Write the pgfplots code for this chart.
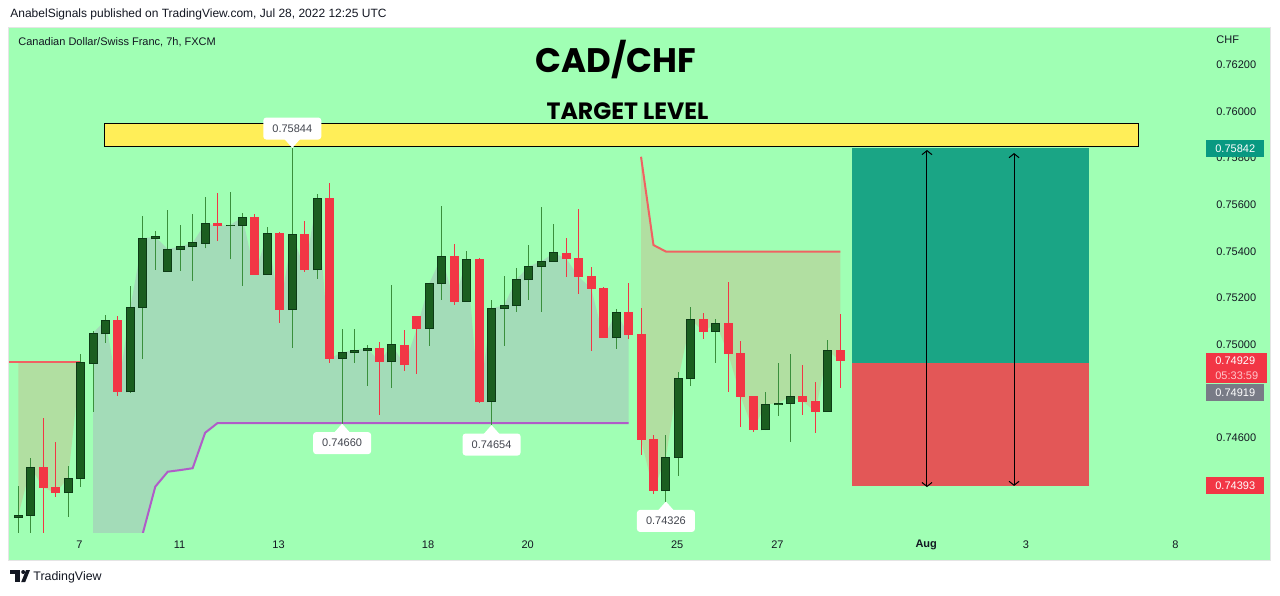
\documentclass[border=0pt]{standalone}
\usepackage{pgfplots}
\pgfplotsset{compat=1.18}
\usepackage{pgfplotstable}
\usepgfplotslibrary{fillbetween}
\usetikzlibrary{arrows.meta}
\usepackage{fontspec}
\setmainfont{Liberation Sans}
\newfontfamily\titlefont{Poppins}

\definecolor{bg}{HTML}{A0FFB4}
\definecolor{upbody}{HTML}{1B5E20}
\definecolor{upedge}{HTML}{0D3B16}
\definecolor{upwick}{HTML}{3A8F3C}
\definecolor{down}{HTML}{F23645}
\definecolor{grayfill}{HTML}{A3DCB8}
\definecolor{yelfill}{HTML}{B1DFA1}
\definecolor{resline}{HTML}{F06262}
\definecolor{supline}{HTML}{B05CC8}
\definecolor{target}{HTML}{FFEE58}
\definecolor{profit}{HTML}{1AA585}
\definecolor{loss}{HTML}{E35757}
\definecolor{tvtext}{HTML}{131722}
\definecolor{tvteal}{HTML}{089981}
\definecolor{lastgray}{HTML}{787B86}
\definecolor{timepink}{HTML}{FFC7CC}

\newcommand\tv{\fontsize{5.5}{6.6}\selectfont}
\def\hp{0.0000215}% half a pixel in price

% CADCHF 7h bars, x = bar index
\pgfplotstableread{
i o h l c
0 0.74257 0.74393 0.74180 0.74267
1 0.74265 0.74514 0.74180 0.74474
2 0.74474 0.74686 0.74180 0.74385
3 0.74388 0.74582 0.74347 0.74364
4 0.74364 0.74478 0.74261 0.74427
5 0.74424 0.74959 0.74390 0.74921
6 0.74918 0.75058 0.74712 0.75049
7 0.75046 0.75127 0.75008 0.75105
8 0.75105 0.75122 0.74779 0.74797
9 0.74797 0.75251 0.74793 0.75161
10 0.75160 0.75552 0.74938 0.75457
11 0.75454 0.75489 0.75320 0.75462
12 0.75314 0.75578 0.75314 0.75410
13 0.75407 0.75513 0.75317 0.75421
14 0.75419 0.75560 0.75274 0.75436
15 0.75435 0.75633 0.75413 0.75520
16 0.75522 0.75650 0.75446 0.75510
17 0.75510 0.75655 0.75366 0.75513
18 0.75510 0.75565 0.75253 0.75547
19 0.75547 0.75560 0.75300 0.75300
20 0.75300 0.75503 0.75299 0.75478
21 0.75479 0.75483 0.75094 0.75150
22 0.75150 0.75844 0.74986 0.75473
23 0.75475 0.75530 0.75313 0.75321
24 0.75321 0.75646 0.75283 0.75628
25 0.75628 0.75695 0.74922 0.74939
26 0.74939 0.75067 0.74660 0.74967
27 0.74965 0.75067 0.74922 0.74975
28 0.74973 0.74998 0.74823 0.74985
29 0.74985 0.75011 0.74699 0.74926
30 0.74926 0.75254 0.74815 0.74998
31 0.74998 0.75062 0.74888 0.74913
32 0.75122 0.75122 0.74875 0.75068
33 0.75068 0.75263 0.74995 0.75263
34 0.75261 0.75596 0.75192 0.75379
35 0.75380 0.75432 0.75171 0.75184
36 0.75184 0.75401 0.75183 0.75366
37 0.75366 0.75370 0.74750 0.74755
38 0.74755 0.75191 0.74654 0.75155
39 0.75154 0.75293 0.74995 0.75168
40 0.75167 0.75327 0.75141 0.75280
41 0.75278 0.75427 0.75192 0.75336
42 0.75334 0.75592 0.75141 0.75357
43 0.75356 0.75517 0.75355 0.75393
44 0.75393 0.75457 0.75290 0.75368
45 0.75370 0.75582 0.75218 0.75291
46 0.75293 0.75333 0.74974 0.75240
47 0.75243 0.75248 0.75028 0.75029
48 0.75029 0.75154 0.74982 0.75138
49 0.75138 0.75263 0.75025 0.75042
50 0.75045 0.75157 0.74527 0.74591
51 0.74594 0.74612 0.74360 0.74373
52 0.74373 0.74612 0.74326 0.74517
53 0.74516 0.74881 0.74437 0.74855
54 0.74853 0.75161 0.74823 0.75108
55 0.75108 0.75135 0.75025 0.75055
56 0.75055 0.75110 0.74922 0.75091
57 0.75092 0.75267 0.74797 0.74961
58 0.74964 0.75015 0.74645 0.74776
59 0.74779 0.74780 0.74626 0.74634
60 0.74634 0.74795 0.74633 0.74743
61 0.74743 0.74921 0.74694 0.74748
62 0.74748 0.74959 0.74583 0.74778
63 0.74779 0.74912 0.74699 0.74755
64 0.74757 0.74840 0.74621 0.74712
65 0.74712 0.75019 0.74711 0.74975
66 0.74976 0.75131 0.74815 0.74929
}\candles

% support line (purple)
\pgfplotstableread{
i v
6 0.74050
9 0.74050
10 0.74190
11 0.74390
12 0.74454
13 0.74461
14 0.74469
15 0.74621
16 0.74663
49 0.74663
}\support

% resistance lines (red)
\pgfplotstableread{
i v
-1 0.74926
5 0.74926
}\resistA
\pgfplotstableread{
i v
50 0.75806
51 0.75427
52 0.75399
66 0.75399
}\resistB

\pgfplotsset{
  bull/.style={restrict expr to domain={\thisrow{c}-\thisrow{o}}{0:1}},
  bear/.style={restrict expr to domain={\thisrow{c}-\thisrow{o}}{-1:-0.000001}},
  candle/.style 2 args={forget plot, draw=none, no markers,
    error bars/y dir=plus, error bars/y explicit, error bars/error mark=none,
    error bars/error bar style={line width=#1, draw=#2, line cap=butt}},
}
\tikzset{lbl/.style={fill=white, text=tvtext!80, font=\tv, rounded corners=1.5pt,
  minimum height=11pt, minimum width=29pt, inner sep=0pt}}

\begin{document}
\pagecolor{bg}%
\begin{tikzpicture}
\begin{axis}[
  at={(4pt,-266pt)}, anchor=south west,
  width=596pt, height=252.5pt, scale only axis,
  xmin=-0.827, xmax=94.88, ymin=0.741952, ymax=0.763631,
  axis line style={draw=none}, tick style={draw=none}, major tick length=0pt,
  every tick label/.append style={font=\tv, text=tvtext, inner sep=0pt},
  xtick={4.9,12.95,20.9,32.9,40.9,52.9,60.95,72.9,80.9,92.9},
  xticklabels={7,11,13,18,20,25,27,\textbf{Aug},3,8},
  xticklabel style={anchor=center, yshift=-6.5pt},
  ytick={0.744,0.746,0.748,0.75,0.752,0.754,0.756,0.758,0.76,0.762},
  ytick pos=right, scaled y ticks=false,
  yticklabel style={anchor=west, xshift=8pt,
    /pgf/number format/fixed, /pgf/number format/fixed zerofill,
    /pgf/number format/precision=5, /pgf/number format/assume math mode=true},
]
% paths for the cloud
\addplot[draw=none, name path=cl, forget plot] table[x=i, y=c]{\candles};
\addplot[draw=none, name path=sup, forget plot] table[x=i, y=v]{\support};
\addplot[draw=none, name path=ra, forget plot] table[x=i, y=v]{\resistA};
\addplot[draw=none, name path=rb, forget plot] table[x=i, y=v]{\resistB};
\addplot[yelfill, forget plot] fill between[of=ra and cl, soft clip={domain=0:5}];
\addplot[grayfill, forget plot] fill between[of=cl and sup, soft clip={domain=6:49}];
\addplot[yelfill, forget plot] fill between[of=rb and cl, soft clip={domain=50:66}];
\addplot[supline, line width=1pt, forget plot] table[x=i, y=v]{\support};
\addplot[resline, line width=1pt, forget plot] table[x=i, y=v]{\resistA};
\addplot[resline, line width=1pt, forget plot] table[x=i, y=v]{\resistB};

% target zone and position tool
\draw[fill=target, line width=0.5pt] (axis cs:6.96,0.75851) rectangle (axis cs:89.98,0.75947);
\fill[profit] (axis cs:66.94,0.74919) rectangle (axis cs:85.96,0.75842);
\fill[loss] (axis cs:66.94,0.74393) rectangle (axis cs:85.96,0.74919);
\draw[line width=0.5pt, {Straight Barb[length=2pt,width=5pt]}-{Straight Barb[length=2pt,width=5pt]}]
  (axis cs:72.96,0.75835) -- (axis cs:72.96,0.74388);
\draw[line width=0.5pt, {Straight Barb[length=2pt,width=5pt]}-{Straight Barb[length=2pt,width=5pt]}]
  (axis cs:79.95,0.75822) -- (axis cs:79.95,0.74393);

% candles
\addplot[bull, candle={0.5pt}{upwick}] table[x=i, y=l, y error plus expr=\thisrow{h}-\thisrow{l}]{\candles};
\addplot[bull, candle={4.5pt}{upedge}] table[x=i, y expr=\thisrow{o}-\hp, y error plus expr=\thisrow{c}-\thisrow{o}+2*\hp]{\candles};
\addplot[bull, candle={3.5pt}{upbody}] table[x=i, y expr=\thisrow{o}+\hp, y error plus expr=\thisrow{c}-\thisrow{o}-2*\hp]{\candles};
\addplot[bear, candle={0.5pt}{down}] table[x=i, y=l, y error plus expr=\thisrow{h}-\thisrow{l}]{\candles};
\addplot[bear, candle={4.5pt}{down}] table[x=i, y=c, y error plus expr=\thisrow{o}-\thisrow{c}]{\candles};

% high / low callouts
\node[lbl, anchor=south, yshift=4pt] at (axis cs:22,0.75844) {0.75844};
\fill[white] ([shift={(-4pt,4.5pt)}]axis cs:22,0.75844) -- (axis cs:22,0.75844) -- ([shift={(4pt,4.5pt)}]axis cs:22,0.75844) -- cycle;
\node[lbl, anchor=north, yshift=-4pt] at (axis cs:26,0.74660) {0.74660};
\fill[white] ([shift={(-4pt,-4.5pt)}]axis cs:26,0.74660) -- (axis cs:26,0.74660) -- ([shift={(4pt,-4.5pt)}]axis cs:26,0.74660) -- cycle;
\node[lbl, anchor=north, yshift=-4pt] at (axis cs:38,0.74654) {0.74654};
\fill[white] ([shift={(-4pt,-4.5pt)}]axis cs:38,0.74654) -- (axis cs:38,0.74654) -- ([shift={(4pt,-4.5pt)}]axis cs:38,0.74654) -- cycle;
\node[lbl, anchor=north, yshift=-4pt] at (axis cs:52,0.74326) {0.74326};
\fill[white] ([shift={(-4pt,-4.5pt)}]axis cs:52,0.74326) -- (axis cs:52,0.74326) -- ([shift={(4pt,-4.5pt)}]axis cs:52,0.74326) -- cycle;

\coordinate (pT) at (axis cs:95.36,0.75842);
\coordinate (pC) at (axis cs:95.36,0.74929);
\coordinate (pE) at (axis cs:95.36,0.74919);
\coordinate (pS) at (axis cs:95.36,0.74393);
\end{axis}

% white frame around the chart panel
\fill[white, even odd rule] (0,0) rectangle (640pt,-297.5pt) (4pt,-13.5pt) rectangle (635pt,-280pt);
\draw[black!10, line width=0.5pt] (4pt,-13.5pt) rectangle (635pt,-280pt);

% price scale tags
\tikzset{tag/.style={anchor=west, font=\tv, text=white, inner xsep=4.5pt, inner ysep=0pt, minimum height=8.5pt}}
\node[tag, fill=tvteal] at (pT) {0.75842};
\node[tag, fill=down, align=left, font=\fontsize{5.5}{7.5}\selectfont, minimum height=15pt, yshift=-3.5pt] at (pC) {0.74929\\\textcolor{timepink}{05:33:59}};
\node[tag, fill=lastgray, yshift=-14.5pt] at (pE) {0.74919};
\node[tag, fill=down] at (pS) {0.74393};
\node[anchor=west, inner sep=0pt, font=\tv, text=tvtext] at (608pt,-20pt) {CHF};

% titles and header text
\node[anchor=west, inner sep=0pt, font=\fontsize{6}{7}\selectfont, text=tvtext] at (5pt,-7pt)
  {AnabelSignals published on TradingView.com, Jul 28, 2022 12:25 UTC};
\node[anchor=west, inner sep=0pt, font=\tv, text=tvtext] at (9pt,-21pt)
  {Canadian Dollar/Swiss Franc, 7h, FXCM};
\node[font=\titlefont\bfseries\fontsize{17}{20}\selectfont] at (308pt,-30pt) {CAD/CHF};
\node[font=\titlefont\bfseries\fontsize{11.8}{13}\selectfont] at (313.75pt,-55.5pt) {TARGET LEVEL};

% TradingView logo
\fill[tvtext] (5pt,-285pt) rectangle (10pt,-287pt);
\fill[tvtext] (7.5pt,-287pt) rectangle (10pt,-291pt);
\fill[tvtext] (11.6pt,-286pt) circle (1pt);
\fill[tvtext] (13pt,-285pt) -- (15pt,-285pt) -- (12.6pt,-291pt) -- (10.6pt,-291pt) -- cycle;
\node[anchor=west, inner sep=0pt, font=\fontsize{6.2}{7}\selectfont, text=tvtext] at (16.5pt,-288.5pt) {TradingView};

\pgfresetboundingbox
\path (0,0) rectangle (640pt,-297.5pt);
\end{tikzpicture}
\end{document}
